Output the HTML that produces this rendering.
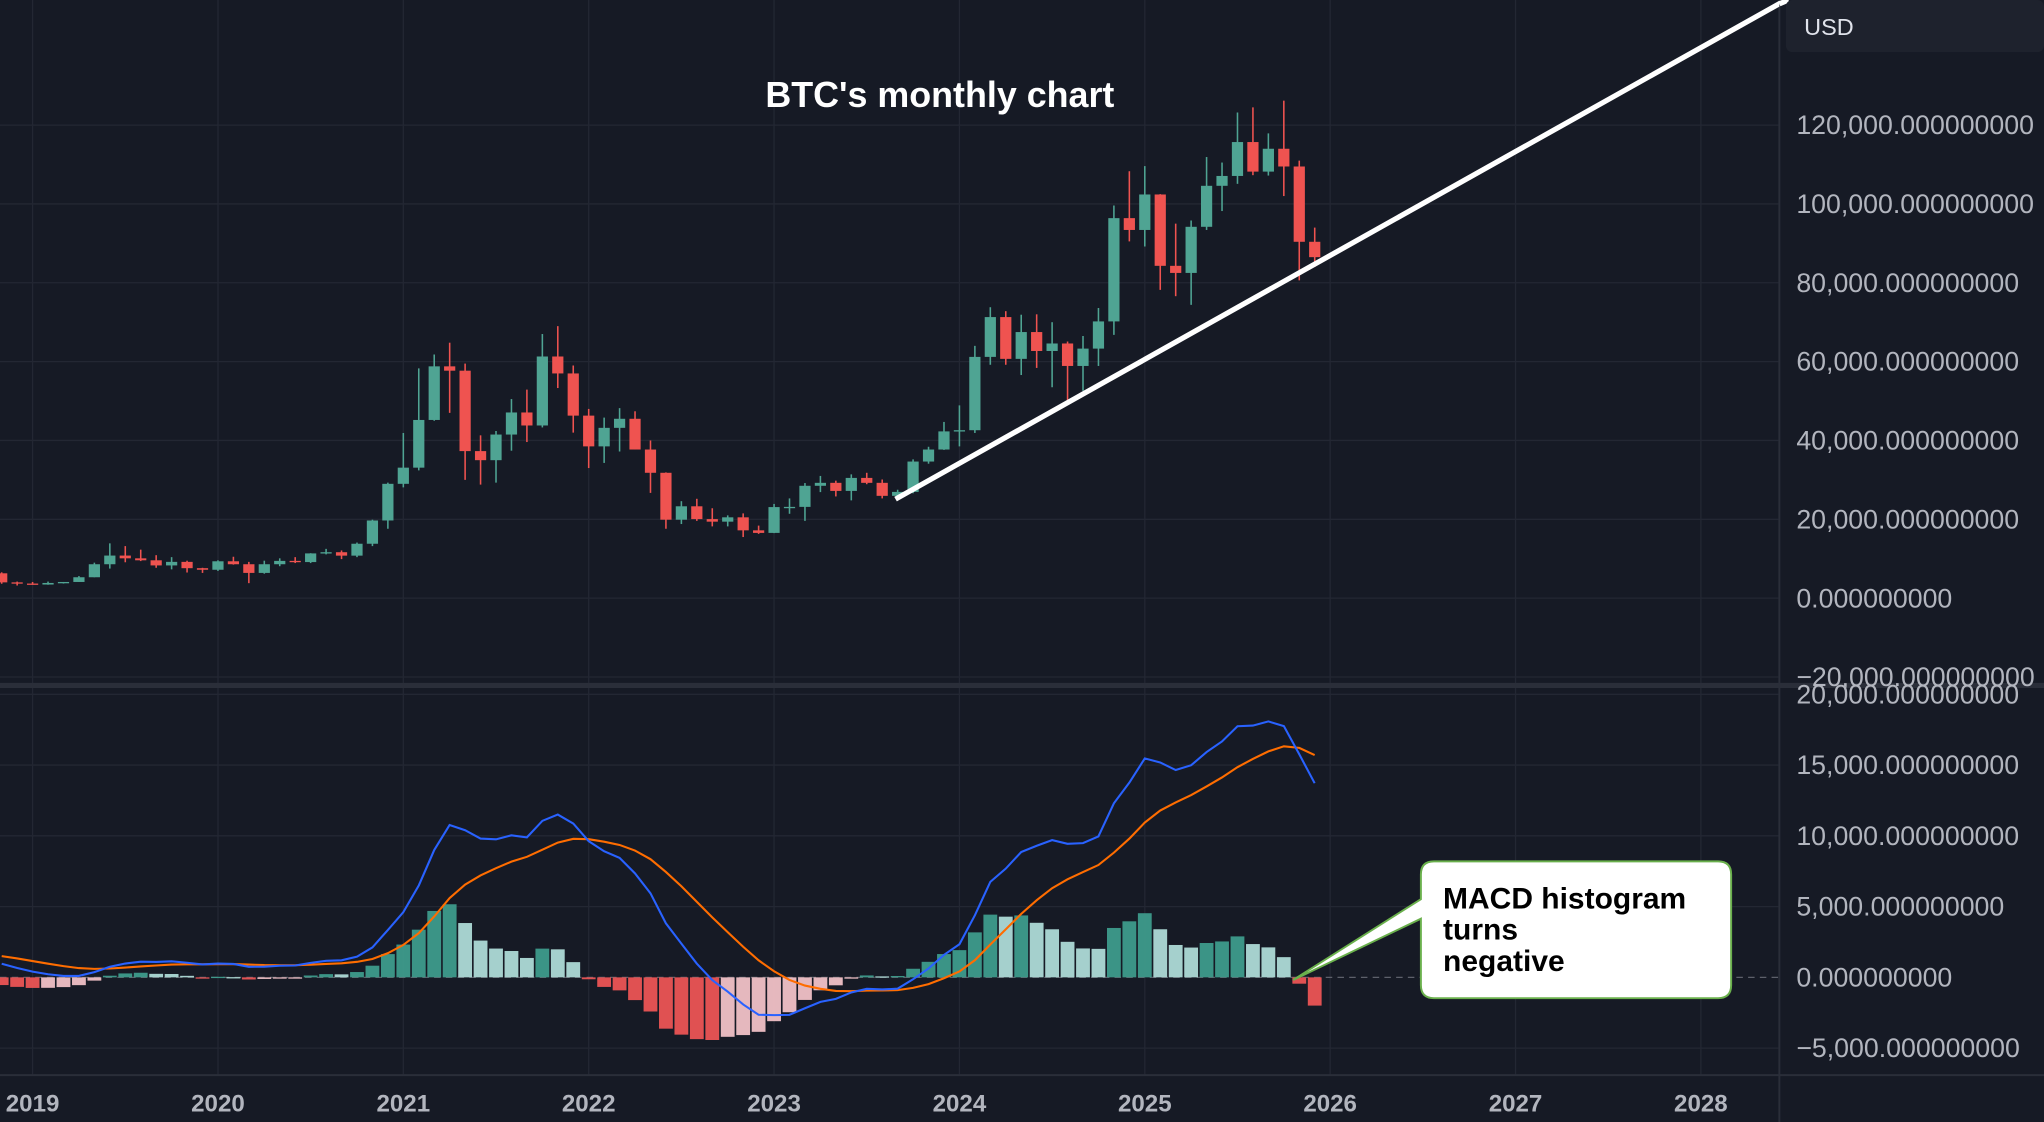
<!DOCTYPE html>
<html><head><meta charset="utf-8"><style>
html,body{margin:0;padding:0;background:#161a25;overflow:hidden}
svg{display:block}
text{font-family:"Liberation Sans",sans-serif}
</style></head><body>
<svg id="s" width="2044" height="1122" viewBox="0 0 1568 861" preserveAspectRatio="none" xmlns="http://www.w3.org/2000/svg">
<defs>
<clipPath id="cp"><rect x="0" y="0" width="1365" height="522"/></clipPath>
<clipPath id="cm"><rect x="0" y="531" width="1365" height="294"/></clipPath>
</defs>
<rect width="1568" height="861" fill="#161a25"/>
<g id="grid"></g>
<g id="price" clip-path="url(#cp)"></g>
<g id="macd" clip-path="url(#cm)"></g>
<line x1="0" y1="526" x2="1568" y2="526" stroke="#2a2e39" stroke-width="4"/>
<line x1="1365" y1="0" x2="1365" y2="861" stroke="#2a2e39" stroke-width="1.5"/>
<line x1="0" y1="825" x2="1568" y2="825" stroke="#2a2e39" stroke-width="1.5"/>
<g id="axis" fill="#b2b5be" font-size="20.5"></g>
<line x1="687" y1="383" x2="1370" y2="0" stroke="#fff" stroke-width="4" clip-path="url(#cp)"/>
<line x1="1365" y1="3" x2="1372" y2="0" stroke="#fff" stroke-width="4"/>
<text x="721" y="82" fill="#fff" font-size="27.5" font-weight="bold" text-anchor="middle">BTC's monthly chart</text>
<rect x="1370" y="0" width="198" height="40" rx="5" fill="#1e222d"/>
<text x="1384" y="27" fill="#e0e3eb" font-size="18">USD</text>
<path d="M1100,661 H1318 Q1328,661 1328,671 V756 Q1328,766 1318,766 H1100 Q1090,766 1090,756 V705 L992,752 L1090,690 V671 Q1090,661 1100,661 Z" fill="#fff" stroke="#6ab04c" stroke-width="1.5"/>
<text fill="#000" font-size="23" font-weight="bold"><tspan x="1107" y="697">MACD histogram</tspan><tspan x="1107" y="721">turns</tspan><tspan x="1107" y="745">negative</tspan></text>
</svg>
<script>
const NS="http://www.w3.org/2000/svg";
function el(p,t,a,txt){const e=document.createElementNS(NS,t);for(const k in a)e.setAttribute(k,a[k]);if(txt!==undefined)e.textContent=txt;document.getElementById(p).appendChild(e);return e;}
const D=[[6300,6550,3650,4000],[4000,4200,3200,3700],
[3700,4100,3400,3450],[3450,4200,3400,3850],[3850,4100,3700,4100],[4100,5600,4100,5300],[5300,9000,5300,8600],[8600,13900,7500,10800],[10800,13200,9100,10100],[10100,12300,9400,9600],[9600,10900,7700,8300],[8300,10400,7300,9200],[9200,9500,6500,7600],[7600,7700,6400,7200],
[7200,9600,6900,9350],[9350,10500,8500,8600],[8600,9200,3800,6400],[6400,9500,6200,8600],[8600,10100,8100,9450],[9450,10400,8900,9150],[9150,11400,8900,11350],[11350,12500,11100,11650],[11650,12100,9900,10780],[10780,14100,10400,13800],[13800,19900,13200,19700],[19700,29300,17600,29000],
[29000,41900,28100,33100],[33100,58300,32400,45200],[45200,61800,45000,58800],[58800,64800,47000,57700],[57700,59500,30000,37300],[37300,41300,28800,35000],[35000,42400,29300,41500],[41500,50500,37400,47100],[47100,52900,39600,43800],[43800,67000,43300,61300],[61300,69000,53300,57000],[57000,59000,42000,46300],
[46300,48000,33000,38500],[38500,45800,34300,43200],[43200,48200,37200,45500],[45500,47400,37700,37700],[37700,40000,26700,31800],[31800,31900,17600,19900],[19900,24600,18800,23300],[23300,25200,19600,20050],[20050,22800,18200,19400],[19400,21000,18200,20500],[20500,21500,15500,17200],[17200,18400,16300,16550],
[16550,23900,16500,23100],[23100,25300,21400,23150],[23150,29200,19600,28500],[28500,31000,26900,29250],[29250,29800,25800,27200],[27200,31400,24800,30500],[30500,31800,28900,29250],[29250,30100,25300,25950],[25950,27500,24900,26950],[26950,35200,26600,34650],[34650,38400,34100,37700],[37700,44700,37600,42300],
[42300,48900,38500,42600],[42600,64000,41900,61200],[61200,73800,59200,71300],[71300,72800,59200,60700],[60700,71900,56600,67500],[67500,72000,58400,62700],[62700,70000,53500,64600],[64600,65100,49000,58900],[58900,66500,52600,63300],[63300,73600,58900,70200],[70200,99600,66800,96400],[96400,108300,90500,93400],
[93400,109600,89200,102400],[102400,102500,78200,84300],[84300,95000,76600,82500],[82500,95800,74400,94200],[94200,111900,93400,104600],[104600,110500,98200,107100],[107100,123200,105100,115700],[115700,124500,107300,108200],[108200,117900,107200,114000],[114000,126200,102000,109500],[109500,111000,80600,90400],[90400,94000,84000,86500]];
const pre=[970,1190,1080,1350,2300,2500,2870,4700,4340,6450,10000,13900,10200,10300,6900,9200,7500,6400,7700,7000,6600,6300];
const X=m=>25+(m-2)*11.85;
const PY=p=>459-p*0.003025, MY=v=>750-v*0.01086;
const years=["2019","2020","2021","2022","2023","2024","2025","2026","2027","2028"];
years.forEach((y,i)=>{const x=25+i*142.2;el("grid","line",{x1:x,y1:0,x2:x,y2:825,stroke:"#232733","stroke-width":1});
el("axis","text",{x:x,y:853,"text-anchor":"middle","font-weight":"bold","font-size":18.5},y);});
const pl=[[120000,"120,000.000000000"],[100000,"100,000.000000000"],[80000,"80,000.000000000"],[60000,"60,000.000000000"],[40000,"40,000.000000000"],[20000,"20,000.000000000"],[0,"0.000000000"],[-20000,"−20,000.000000000"]];
pl.forEach(([v,t])=>{const y=PY(v);if(y<522)el("grid","line",{x1:0,y1:y,x2:1365,y2:y,stroke:"#232733"});el("axis","text",{x:1378,y:y+7},t);});
const ml=[[20000,"20,000.000000000"],[15000,"15,000.000000000"],[10000,"10,000.000000000"],[5000,"5,000.000000000"],[0,"0.000000000"],[-5000,"−5,000.000000000"]];
ml.forEach(([v,t])=>{const y=MY(v);if(v!==0)el("grid","line",{x1:0,y1:y,x2:1365,y2:y,stroke:"#232733"});el("axis","text",{x:1378,y:y+7},t);});
el("grid","line",{x1:0,y1:750,x2:1365,y2:750,stroke:"#5d606b","stroke-dasharray":"5,4"});
D.forEach((c,i)=>{const [o,h,l,cl]=c,x=X(i),col=cl>=o?"#4fa493":"#ef5350";
el("price","line",{x1:x,y1:PY(h),x2:x,y2:PY(l),stroke:col,"stroke-width":1.2});
const t=PY(Math.max(o,cl)),b=PY(Math.min(o,cl));el("price","rect",{x:x-4.3,y:t,width:8.6,height:Math.max(1,b-t),fill:col});});
const closes=pre.concat(D.map(d=>d[3]));
function ema(a,n){const k=2/(n+1);let r=[],e=a[0];a.forEach(v=>{e=v*k+e*(1-k);r.push(e)});return r;}
const e12=ema(closes,12),e26=ema(closes,26),m=e12.map((v,i)=>v-e26[i]),sg=ema(m,9),hs=m.map((v,i)=>v-sg[i]);
const off=pre.length;let mp="",sp="";
for(let i=0;i<D.length;i++){const j=i+off,x=X(i),h=hs[j],ph=hs[j-1];
let col=h>=0?(h>=ph?"#3f9e8e":"#b2dfdb"):(h<ph?"#f25656":"#f7c5cb");
const y0=MY(0),y1=MY(h);el("macd","rect",{x:x-5.3,y:Math.min(y0,y1),width:10.6,height:Math.max(1,Math.abs(y1-y0)),fill:col,opacity:0.92});
mp+=(i?"L":"M")+x.toFixed(1)+","+MY(m[j]).toFixed(1);sp+=(i?"L":"M")+x.toFixed(1)+","+MY(sg[j]).toFixed(1);}
el("macd","path",{d:sp,fill:"none",stroke:"#ff6d00","stroke-width":1.6});
el("macd","path",{d:mp,fill:"none",stroke:"#2962ff","stroke-width":1.6});
</script>
</body></html>
